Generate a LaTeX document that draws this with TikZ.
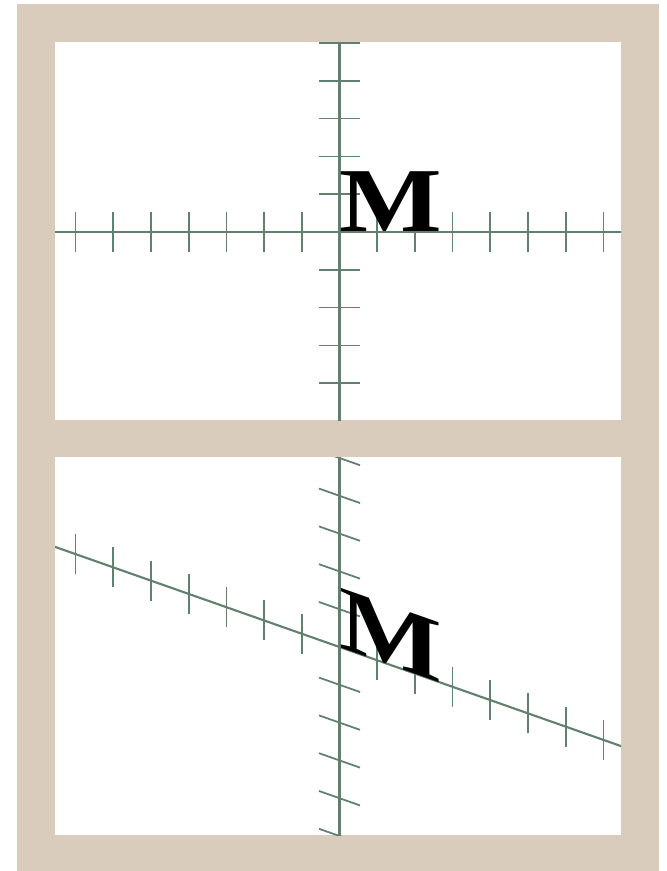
\documentclass[tikz,border=0pt]{standalone}
\usepackage{fontspec}
\usepackage{tikz}
\newfontfamily\letterfont{Liberation Serif}
\definecolor{framebeige}{RGB}{217,204,188}
\definecolor{axisgreen}{RGB}{98,128,110}

\begin{document}
\begin{tikzpicture}[x=0.02cm,y=-0.02cm,
    axisline/.style={draw=axisgreen,line width=1.2pt},
    tickmark/.style={draw=axisgreen,line width=1pt},
    letter/.style={font=\letterfont\bfseries\fontsize{52}{52}\selectfont,inner sep=0pt,
      anchor=base west,xscale=1.19,transform shape}]
  \useasboundingbox (0,0) rectangle (666,871);
  \fill[framebeige] (17,4) rectangle (659,871);
  \fill[white] (55,42) rectangle (621,420);
  \fill[white] (55,457) rectangle (621,835);
  % upper panel: plain axes
  \begin{scope}
    \clip (55,42) rectangle (621,420);
    \begin{scope}[shift={(339.5,232)}]
      \draw[axisline] (-285,0) -- (282,0);
      \draw[axisline] (0,-190) -- (0,190);
      \foreach \k in {1,...,7} {
        \draw[tickmark] (37.7*\k,-20) -- (37.7*\k,20);
        \draw[tickmark] (-37.7*\k,-20) -- (-37.7*\k,20);
      }
      \foreach \k in {-5,...,-1,1,2,3,4} \draw[tickmark] (-20.5,37.8*\k) -- (20.5,37.8*\k);
      \node[letter] (mupright) at (0,0) {M};
    \end{scope}
  \end{scope}
  % lower panel: the same axes, sheared
  \begin{scope}
    \clip (55,457) rectangle (621,835);
    \begin{scope}[shift={(339.5,647)},cm={1,-0.352,0,1,(0,0)}]
      \draw[axisline] (-285,0) -- (282,0);
      \draw[axisline] (0,-190) -- (0,190);
      \foreach \k in {1,...,7} {
        \draw[tickmark] (37.7*\k,-20) -- (37.7*\k,20);
        \draw[tickmark] (-37.7*\k,-20) -- (-37.7*\k,20);
      }
      \foreach \k in {-5,...,-1,1,2,...,5} \draw[tickmark] (-20.5,37.8*\k) -- (20.5,37.8*\k);
      \node[letter] (msheared) at (0,0) {M};
    \end{scope}
  \end{scope}
\end{tikzpicture}
\end{document}
